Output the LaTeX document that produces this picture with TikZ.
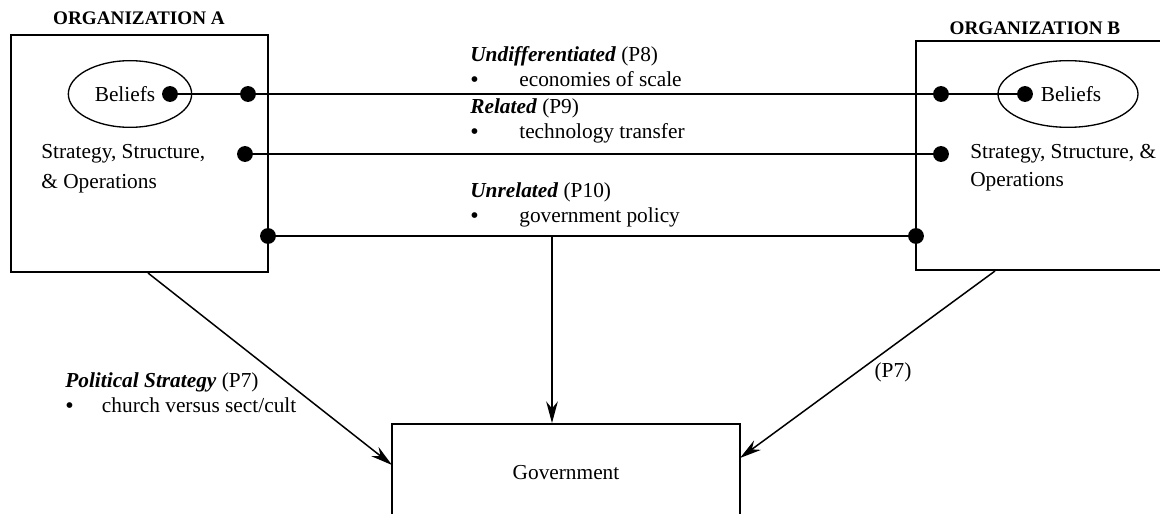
\documentclass[tikz,border=0pt]{standalone}
\usepackage{fontspec}
\setmainfont{Liberation Serif}
\usetikzlibrary{arrows.meta,shapes.geometric}

\newcommand{\bul}[1]{\makebox[#1][l]{\raisebox{-0.1ex}{\Large\textbullet}}}

\tikzset{
  dot/.style={circle,fill=black,inner sep=0pt,minimum size=9.5pt},
  orgbox/.style={draw,line width=0.9pt},
  belief/.style={draw,ellipse,line width=0.8pt,inner sep=0pt},
  link/.style={line width=1.2pt},
  arr/.style={line width=0.9pt,-{Stealth[length=13pt,width=7pt]}},
  txt/.style={inner sep=0pt,align=left,font=\fontsize{12.8}{15}\selectfont},
  head/.style={inner sep=0pt,font=\fontsize{11.5}{14}\selectfont\bfseries}
}

\begin{document}
\begin{tikzpicture}[x=0.6pt,y=-0.6pt] % 按像素坐标绘制

    \useasboundingbox (0,0) rectangle (1160,514);

    % 1. 两个组织的方框和标题
    \draw[orgbox] (11,35) rectangle (268,272);
    \draw[orgbox] (916,41) rectangle (1170,270);
    \node[head] (headA) at (139,18) {ORGANIZATION A};
    \node[head] (headB) at (1035,28) {ORGANIZATION B};

    % 2. 信念椭圆
    \node[belief,minimum width=74pt,minimum height=40pt] (ellA) at (130,94) {};
    \node[belief,minimum width=84pt,minimum height=40pt] (ellB) at (1068,94) {};
    \node[txt] (belA) at (125,94) {Beliefs};
    \node[txt] (belB) at (1071,94) {Beliefs};

    % 3. 方框内的文字
    \node[txt,anchor=west,font=\fontsize{12.8}{18}\selectfont] (ssoA) at (41,169)
        {Strategy, Structure,\\ \& Operations};
    \node[txt,anchor=west,font=\fontsize{12.8}{17}\selectfont] (ssoB) at (970,168)
        {Strategy, Structure, \&\\ Operations};

    % 4. 连接点
    \node[dot] (bA)  at (170,94)  {};
    \node[dot] (mA1) at (248,94)  {};
    \node[dot] (mB1) at (941,94)  {};
    \node[dot] (bB)  at (1025,94) {};
    \node[dot] (sA)  at (245,154) {};
    \node[dot] (sB)  at (941,154) {};
    \node[dot] (oA)  at (268,236) {};
    \node[dot] (oB)  at (916,236) {};

    % 5. 三条水平连线
    \draw[link] (bA) -- (mA1) -- (mB1) -- (bB);
    \draw[link] (sA) -- (sB);
    \draw[link] (oA) -- (oB);

    % 6. 连线上的说明
    \node[txt,anchor=west] (lblP8) at (470,67)
        {\textbf{\textit{Undifferentiated}} (P8)\\ \bul{29.4pt}economies of scale};
    \node[txt,anchor=west] (lblP9) at (470,121)
        {\textbf{\textit{Related}} (P9)\\ \bul{29.4pt}technology transfer};
    \node[txt,anchor=west] (lblP10) at (470,205)
        {\textbf{\textit{Unrelated}} (P10)\\ \bul{29.4pt}government policy};

    % 7. 政府方框
    \node[draw,line width=0.9pt,minimum width=209pt,minimum height=59pt,
          font=\fontsize{12.8}{15}\selectfont] (gov) at (566,473) {Government};

    % 8. 指向政府的箭头
    \coordinate (pol)  at (552,236);
    \coordinate (botA) at (148,273);
    \coordinate (botB) at (995,271);
    \coordinate (govL) at (392,465);
    \coordinate (govR) at (740,458);
    \draw[arr] (pol) -- (pol |- gov.north);
    \draw[arr] (botA) -- (govL);
    \draw[arr] (botB) -- (govR);

    % 9. 箭头旁的标注
    \node[txt,anchor=west] (lblP7) at (65,393)
        {\textbf{\textit{Political Strategy}} (P7)\\ \bul{22pt}church versus sect/cult};
    \node[txt] (lblP7b) at (893,372) {(P7)};

  \end{tikzpicture}
\end{document}
